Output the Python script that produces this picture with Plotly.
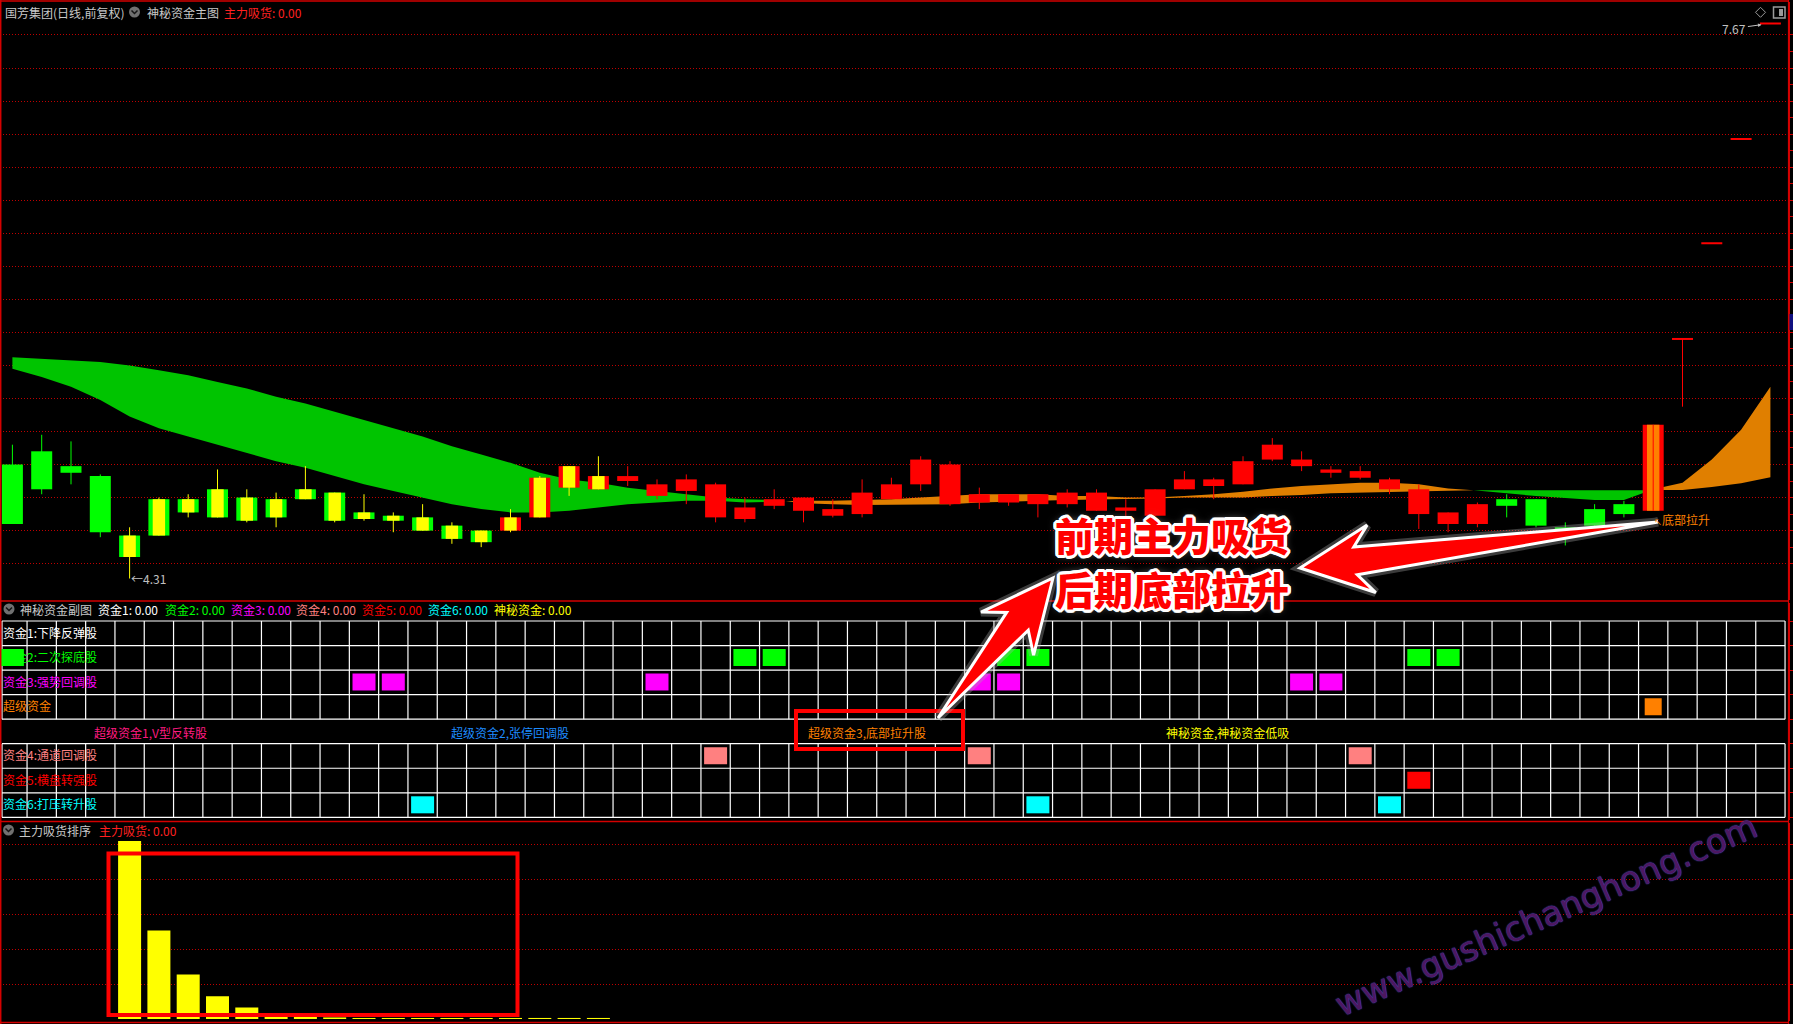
import plotly.graph_objects as go

# ------------------------------------------------------------------ data
bars = list(range(61))
opens = [5.00, 5.08, 4.99, 4.93, 4.44, 4.57, 4.71, 4.68, 4.66, 4.68, 4.79, 4.66, 4.67, 4.66, 4.60, 4.55, 4.53, 4.60, 4.68, 4.86, 4.85,
         4.90, 4.81, 4.84, 4.68, 4.67, 4.75, 4.72, 4.69, 4.70, 4.79, 4.88, 4.76, 4.77, 4.77, 4.76, 4.76, 4.72, 4.72, 4.69, 4.85,
         4.87, 4.88, 5.03, 4.99, 4.95, 4.92, 4.85, 4.70, 4.64, 4.64, 4.79, 4.79, 4.62, 4.73, 4.76, 4.72, 5.76, 6.34, 6.97, 7.67]
highs = [5.12, 5.18, 5.14, 4.94, 4.62, 4.80, 4.82, 4.97, 4.85, 4.83, 4.99, 4.83, 4.82, 4.71, 4.76, 4.65, 4.60, 4.73, 4.93, 4.99, 5.05,
         4.99, 4.91, 4.94, 4.89, 4.80, 4.85, 4.80, 4.79, 4.91, 4.92, 5.05, 5.02, 4.86, 4.82, 4.82, 4.85, 4.85, 4.79, 4.85, 4.96,
         4.92, 5.05, 5.16, 5.08, 4.99, 4.99, 4.92, 4.88, 4.71, 4.77, 4.82, 4.79, 4.65, 4.76, 4.78, 5.24, 5.76, 6.34, 6.97, 7.67]
lows = [4.64, 4.82, 4.88, 4.56, 4.31, 4.57, 4.68, 4.68, 4.65, 4.62, 4.79, 4.65, 4.66, 4.59, 4.60, 4.52, 4.50, 4.59, 4.68, 4.81, 4.85,
        4.87, 4.79, 4.76, 4.65, 4.65, 4.73, 4.65, 4.68, 4.68, 4.79, 4.84, 4.75, 4.73, 4.75, 4.68, 4.74, 4.72, 4.68, 4.69, 4.85,
        4.79, 4.88, 5.02, 4.96, 4.92, 4.91, 4.82, 4.61, 4.59, 4.62, 4.68, 4.62, 4.51, 4.62, 4.68, 4.72, 5.35, 6.34, 6.97, 7.67]
closes = [4.64, 4.85, 4.95, 4.59, 4.57, 4.79, 4.79, 4.85, 4.80, 4.79, 4.85, 4.83, 4.71, 4.69, 4.68, 4.63, 4.60, 4.68, 4.92, 4.99, 4.93,
          4.93, 4.88, 4.91, 4.88, 4.74, 4.79, 4.80, 4.73, 4.83, 4.88, 5.03, 5.00, 4.82, 4.82, 4.82, 4.83, 4.83, 4.74, 4.85, 4.91,
          4.91, 5.02, 5.12, 5.03, 4.97, 4.96, 4.91, 4.85, 4.71, 4.76, 4.75, 4.63, 4.60, 4.63, 4.70, 5.24, 5.76, 6.34, 6.97, 7.67]
# candle signal category: g = fall, yg = absorb (weak), yr = absorb (strong), r = rise, or = bottom lift
candle_signal = ['g'] * 4 + ['yg'] * 13 + ['yr'] * 4 + ['r'] * 30 + ['g'] * 5 + ['or'] + ['r'] * 4

ma_fast = [5.58, 5.53, 5.47, 5.39, 5.29, 5.22, 5.17, 5.12, 5.07, 5.02, 4.98, 4.93, 4.88, 4.84, 4.80, 4.76, 4.73, 4.71, 4.71, 4.72, 4.74,
           4.76, 4.77, 4.78, 4.78, 4.77, 4.775, 4.78, 4.78, 4.785, 4.79, 4.80, 4.81, 4.82, 4.82, 4.82, 4.81, 4.81, 4.80, 4.80, 4.81,
           4.82, 4.835, 4.855, 4.87, 4.88, 4.89, 4.89, 4.88, 4.855, 4.842, 4.826, 4.809, 4.795, 4.785, 4.785, 4.85, 4.89, 5.03, 5.21, 5.47]
ma_slow = [5.65, 5.64, 5.63, 5.62, 5.60, 5.57, 5.54, 5.50, 5.46, 5.41, 5.37, 5.32, 5.27, 5.22, 5.17, 5.11, 5.06, 5.01, 4.95, 4.91, 4.89,
           4.86, 4.84, 4.82, 4.80, 4.79, 4.785, 4.765, 4.76, 4.755, 4.755, 4.757, 4.76, 4.77, 4.775, 4.78, 4.785, 4.79, 4.793, 4.795, 4.80,
           4.80, 4.80, 4.81, 4.815, 4.826, 4.83, 4.834, 4.838, 4.841, 4.844, 4.844, 4.841, 4.844, 4.844, 4.844, 4.845, 4.846, 4.864, 4.886, 4.923]

low_label, high_label = 4.31, 7.67
price_grid = [round(4.4 + 0.2 * k, 2) for k in range(17)]

# signal table (sub chart)
row_labels = ["资金1:下降反弹股", "资金2:二次探底股", "资金3:强势回调股", "超级资金", None,
              "资金4:通道回调股", "资金5:横盘转强股", "资金6:打压转升股"]
row_colors = ["#ffffff", "#00ff00", "#ff00ff", "#ff8000", None, "#ff8080", "#ff0000", "#00ffff"]
row_hits = {0: [], 1: [0, 25, 26, 34, 35, 48, 49], 2: [12, 13, 22, 33, 34, 44, 45], 3: [56],
            5: [24, 33, 46], 6: [48], 7: [14, 35, 47]}
super_labels = ["超级资金1,V型反转股", "超级资金2,张停回调股", "超级资金3,底部拉升股", "神秘资金,神秘资金低吸"]
super_colors = ["#ff1a80", "#1e8cff", "#ff8000", "#ffff00"]
sub_header = [("资金1: 0.00", "#ffffff"), ("资金2: 0.00", "#00ff00"), ("资金3: 0.00", "#ff00ff"),
              ("资金4: 0.00", "#ff8080"), ("资金5: 0.00", "#ff0000"), ("资金6: 0.00", "#00ffff"),
              ("神秘资金: 0.00", "#ffff00")]

# main-force absorption ranking (bottom chart)
absorb_bars = list(range(4, 21))
absorb_values = [101.7, 50.6, 25.4, 13.0, 6.6, 3.3, 2.0, 0.9, 0.6, 0.6, 0.6, 0.6, 0.6, 0.6, 0.6, 0.6, 0.6]

# ------------------------------------------------------------------ geometry / style
W, H = 1793, 1024
X0, DX = 12.4, 29.3      # pixel centre of bar 0, pixels per bar
XR = 1788.5              # right axis line
Y_REF, PPX = 578.5, 165.2
FONT = "Noto Sans CJK SC"
RED_LINE = "#d40000"
GRID = "#c00000"


def dx(x):
    return (x - X0) / DX


def pxp(x):
    return x / W


def pyp(y):
    return 1 - y / H


def price_at(y):
    return low_label + (Y_REF - y) / PPX


def vrow(y):
    return 8 - (y - 621) / 24.54


def bval(y):
    return (1019 - y) * 20 / 35


fig = go.Figure()

# ---- band (fast / slow average cloud)
def band_segments(fast, slow):
    segs, cur = [], None
    for i in range(len(fast)):
        d = fast[i] - slow[i]
        s = d >= 0
        if cur is None:
            cur = {"s": s, "pts": [(i, fast[i], slow[i])]}
            continue
        if s != cur["s"]:
            d0 = fast[i - 1] - slow[i - 1]
            t = d0 / (d0 - d)
            xc = i - 1 + t
            yc = fast[i - 1] + t * (fast[i] - fast[i - 1])
            cur["pts"].append((xc, yc, yc))
            segs.append(cur)
            cur = {"s": s, "pts": [(xc, yc, yc)]}
        cur["pts"].append((i, fast[i], slow[i]))
    segs.append(cur)
    return segs


for seg in band_segments(ma_fast, ma_slow):
    pts = seg["pts"]
    xs = [p[0] for p in pts] + [p[0] for p in reversed(pts)]
    ys = [p[1] for p in pts] + [p[2] for p in reversed(pts)]
    fig.add_trace(go.Scatter(x=xs, y=ys, mode="lines", fill="toself",
                             fillcolor="#e07f00" if seg["s"] else "#00c400",
                             line=dict(width=0), hoverinfo="skip", showlegend=False,
                             xaxis="x", yaxis="y"))

# ---- candles (on overlay axis so they sit above the cloud)
outer_col = {"g": "#00ff00", "yg": "#00ff00", "yr": "#ff0000", "r": "#ff0000", "or": "#ff0000"}
inner_col = {"yg": "#ffff00", "yr": "#ffff00", "or": "#ff8000"}
wick_col = {"g": "#00ff00", "yg": "#ffff00", "yr": "#ffff00", "r": "#ff0000", "or": "#ff0000"}
MINH = 2.0 / PPX
b_lo, b_h = [], []
for o, c in zip(opens, closes):
    lo, hi = min(o, c), max(o, c)
    if hi - lo < MINH:
        mid = hi
        lo, hi = mid - MINH / 2, mid + MINH / 2
    b_lo.append(lo)
    b_h.append(hi - lo)

for col in ["#00ff00", "#ffff00", "#ff0000"]:
    xs, ys = [], []
    for i in bars:
        if wick_col[candle_signal[i]] == col:
            xs += [i, i, None]
            ys += [lows[i], highs[i], None]
    fig.add_trace(go.Scatter(x=xs, y=ys, mode="lines", line=dict(color=col, width=1),
                             hoverinfo="skip", showlegend=False, xaxis="x", yaxis="y4"))

fig.add_trace(go.Bar(x=bars, base=b_lo, y=b_h, width=0.717,
                     marker=dict(color=[outer_col[s] for s in candle_signal], line=dict(width=0)),
                     hoverinfo="skip", showlegend=False, xaxis="x", yaxis="y4"))
inn = [i for i in bars if candle_signal[i] in inner_col]
fig.add_trace(go.Bar(x=inn, base=[b_lo[i] for i in inn], y=[b_h[i] for i in inn], width=0.423,
                     marker=dict(color=[inner_col[candle_signal[i]] for i in inn], line=dict(width=0)),
                     hoverinfo="skip", showlegend=False, xaxis="x", yaxis="y4"))

# ---- signal table grid
gx, gy = [], []
xl, xr = dx(2), 60.5
for v in range(9):
    gx += [xl, xr, None]
    gy += [v, v, None]
for xv in [xl] + [k + 0.5 for k in range(60)] + [xr]:
    gx += [xv, xv, None, xv, xv, None]
    gy += [8, 4, None, 3, 0, None]
fig.add_trace(go.Scatter(x=gx, y=gy, mode="lines", line=dict(color="#ffffff", width=1.2),
                         hoverinfo="skip", showlegend=False, xaxis="x", yaxis="y2"))

lab_rows = [r for r in range(8) if row_labels[r]]
fig.add_trace(go.Scatter(x=[dx(3)] * len(lab_rows), y=[7.45 - r for r in lab_rows],
                         mode="text", text=[row_labels[r] for r in lab_rows], textposition="middle right",
                         textfont=dict(family=FONT, size=12, color=[row_colors[r] for r in lab_rows]),
                         hoverinfo="skip", showlegend=False, xaxis="x", yaxis="y2"))

for r, hits in row_hits.items():
    if not hits:
        continue
    bottom = 7 - r
    fig.add_trace(go.Bar(x=hits, base=[bottom + 0.163] * len(hits), y=[0.694] * len(hits),
                         width=0.58 if r == 3 else 0.785,
                         marker=dict(color=row_colors[r], line=dict(width=0)),
                         hoverinfo="skip", showlegend=False, xaxis="x", yaxis="y5"))

# ---- absorption ranking bars
fig.add_trace(go.Bar(x=absorb_bars, y=absorb_values, width=0.785,
                     marker=dict(color="#ffff00", line=dict(width=0)),
                     hoverinfo="skip", showlegend=False, xaxis="x", yaxis="y3"))

# ------------------------------------------------------------------ annotations
ann = []


def note(x, y, text, color, size=12, xanchor="left", **kw):
    d = dict(x=pxp(x), y=pyp(y), xref="paper", yref="paper", text=text, showarrow=False,
             xanchor=xanchor, yanchor="middle", font=dict(family=FONT, size=size, color=color))
    d.update(kw)
    ann.append(d)


note(3, 12, "国芳集团(日线,前复权)", "#c8c8c8")
note(145, 12, "神秘资金主图", "#c8c8c8")
note(222, 12, "主力吸货: 0.00", "#ff2020")

note(18, 609, "神秘资金副图", "#c8c8c8")
hx = [95.7, 162.6, 228.5, 294, 360, 426, 492]
for (t, c), x in zip(sub_header, hx):
    note(x, 609, t, c)
for t, c, x in zip(super_labels, super_colors, [92, 448.5, 806, 1164]):
    note(x, 732, t, c)

note(17, 830, "主力吸货排序", "#c8c8c8")
note(97, 830, "主力吸货: 0.00", "#ff2020")

# price extreme labels
lo_i = lows.index(min(lows[:57]))
ann.append(dict(x=lo_i, y=low_label, xref="x", yref="y", text="←" + f"{low_label:.2f}", showarrow=False,
                xanchor="left", yanchor="middle", xshift=-1,
                font=dict(family=FONT, size=12, color="#c0c0c0")))
ann.append(dict(x=60, y=high_label, xref="x", yref="y", text=f"{high_label:.2f}", showarrow=True,
                ax=-36, ay=5, arrowhead=2, arrowsize=0.7, arrowwidth=1, arrowcolor="#c0c0c0",
                standoff=9, font=dict(family=FONT, size=12, color="#c0c0c0")))
ann.append(dict(x=56, y=min(opens[56], closes[56]), xref="x", yref="y",
                text="<span style='font-size:8px'>↖</span>底部拉升", showarrow=False,
                xanchor="left", yanchor="middle", xshift=-1, yshift=-9,
                font=dict(family=FONT, size=12, color="#ff8000")))

# big callout text
off = [(-3, 0), (3, 0), (0, -3), (0, 3), (-2, -2), (2, -2), (-2, 2), (2, 2),
       (-3, -1), (3, 1), (-1, 3), (1, -3), (-3, 1), (3, -1), (1, 3), (-1, -3)]
outline = ", ".join(f"{a}px {b}px 0 #ffffff" for a, b in off) + ", 0 0 9px #9a9a9a"
for y, t in [(534, "前期主力吸货"), (588, "后期底部拉升")]:
    ann.append(dict(x=pxp(1172), y=pyp(y), xref="paper", yref="paper", text=t, showarrow=False,
                    xanchor="center", yanchor="middle",
                    font=dict(family=FONT, size=39, color="#ff0000", weight=900, shadow=outline)))

# watermark
ann.append(dict(x=pxp(1546), y=pyp(915), xref="paper", yref="paper", text="www.gushichanghong.com",
                showarrow=False, textangle=-23.5, xanchor="center", yanchor="middle",
                font=dict(family="DejaVu Sans", size=34, color="rgba(78,22,92,0.95)",
                          shadow="0 0 1.2px rgba(70,70,190,0.95), 0 0 1.2px rgba(70,70,190,0.95)")))

# ------------------------------------------------------------------ shapes
shapes = []


def pline(x0, y0, x1, y1, color=RED_LINE, width=1.5):
    shapes.append(dict(type="line", xref="paper", yref="paper", x0=pxp(x0), y0=pyp(y0),
                       x1=pxp(x1), y1=pyp(y1), line=dict(color=color, width=width)))


pline(0, 1, XR, 1)
pline(0.7, 0, 0.7, H)
for yy in (601, 821.5, 1022.5):
    pline(0, yy, XR, yy)
pline(XR, 0, XR, H, width=1.2)
shapes.append(dict(type="rect", xref="paper", yref="paper", x0=pxp(1789.5), x1=pxp(1793),
                   y0=pyp(314), y1=pyp(330), fillcolor="#101080", line=dict(width=0)))


def icon(cx, cy):
    shapes.append(dict(type="circle", xref="paper", yref="paper", x0=pxp(cx - 5.5), x1=pxp(cx + 5.5),
                       y0=pyp(cy + 5.5), y1=pyp(cy - 5.5), fillcolor="#707070", line=dict(width=0)))
    shapes.append(dict(type="path", xref="paper", yref="paper",
                       path=f"M {pxp(cx-3)},{pyp(cy-1.5)} L {pxp(cx)},{pyp(cy+1.5)} L {pxp(cx+3)},{pyp(cy-1.5)}",
                       line=dict(color="#151515", width=1.5)))


icon(134.5, 12)
icon(9, 609)
icon(8.5, 830)

# top-right window icons
shapes.append(dict(type="path", xref="paper", yref="paper",
                   path=f"M {pxp(1760.5)},{pyp(7.3)} L {pxp(1765.5)},{pyp(12.3)} L {pxp(1760.5)},{pyp(17.3)} L {pxp(1755.5)},{pyp(12.3)} Z",
                   line=dict(color="#9a9a9a", width=1)))
shapes.append(dict(type="rect", xref="paper", yref="paper", x0=pxp(1773.5), x1=pxp(1785),
                   y0=pyp(18), y1=pyp(7), line=dict(color="#9a9a9a", width=1.5)))
shapes.append(dict(type="rect", xref="paper", yref="paper", x0=pxp(1779), x1=pxp(1783),
                   y0=pyp(16), y1=pyp(9), fillcolor="#9a9a9a", line=dict(width=0)))

# highlight boxes
for x0, y0, x1, y1 in [(796, 711, 963, 749), (108.5, 853.5, 517.5, 1015)]:
    shapes.append(dict(type="rect", xref="paper", yref="paper", x0=pxp(x0), x1=pxp(x1),
                       y0=pyp(y1), y1=pyp(y0), line=dict(color="#ff0000", width=4)))


def arrow_path(tail, tip, head_len, barb_len, head_half, shaft_half):
    tx, ty = tail
    hx_, hy_ = tip
    L = ((hx_ - tx) ** 2 + (hy_ - ty) ** 2) ** 0.5
    ux, uy = (hx_ - tx) / L, (hy_ - ty) / L
    nx, ny = -uy, ux
    bx, by = hx_ - ux * head_len, hy_ - uy * head_len
    cx, cy = hx_ - ux * barb_len, hy_ - uy * barb_len
    pts = [tip, (cx + nx * head_half, cy + ny * head_half), (bx + nx * shaft_half, by + ny * shaft_half),
           tail, (bx - nx * shaft_half, by - ny * shaft_half), (cx - nx * head_half, cy - ny * head_half)]
    return "M " + " L ".join(f"{pxp(x):.5f},{pyp(y):.5f}" for x, y in pts) + " Z"


for tail, tip in [((1658, 522), (1300, 568)), ((938, 718), (1053, 578))]:
    p = arrow_path(tail, tip, 56, 72, 34, 14)
    shapes.append(dict(type="path", xref="paper", yref="paper", path=p,
                       line=dict(color="rgba(170,170,170,0.35)", width=9)))
    shapes.append(dict(type="path", xref="paper", yref="paper", path=p, fillcolor="#ff0000",
                       line=dict(color="#ffffff", width=3)))

# ------------------------------------------------------------------ layout
common_off = dict(showgrid=False, zeroline=False, showticklabels=False, ticks="", showline=False)
fig.update_layout(
    width=W, height=H, autosize=False,
    margin=dict(l=0, r=0, t=0, b=0, pad=0),
    paper_bgcolor="#000000", plot_bgcolor="#000000",
    barmode="overlay", showlegend=False, hovermode=False,
    xaxis=dict(domain=[0, XR / W], range=[dx(0), dx(XR)], visible=False, fixedrange=True),
    yaxis=dict(domain=[pyp(600), pyp(2)], range=[price_at(600), price_at(2)], anchor="x", side="right",
               showline=True, linecolor=RED_LINE, linewidth=1, ticks="outside", ticklen=4,
               tickcolor=RED_LINE, tickvals=price_grid, showticklabels=False,
               showgrid=True, gridcolor=GRID, griddash="1px,2px", gridwidth=1, zeroline=False,
               minor=dict(tickvals=[round(p + 0.1, 2) for p in price_grid[:-1]], ticks="outside",
                          ticklen=3, tickcolor=RED_LINE, showgrid=False)),
    yaxis4=dict(overlaying="y", anchor="x", range=[price_at(600), price_at(2)], **common_off),
    yaxis2=dict(domain=[pyp(820), pyp(603)], range=[vrow(820), vrow(603)], anchor="x", side="right",
                showline=True, linecolor=RED_LINE, linewidth=1, ticks="outside", ticklen=4,
                tickcolor=RED_LINE, tickvals=list(range(9)), showticklabels=False,
                showgrid=False, zeroline=False),
    yaxis5=dict(overlaying="y2", anchor="x", range=[vrow(820), vrow(603)], **common_off),
    yaxis3=dict(domain=[pyp(1021), pyp(823)], range=[bval(1021), bval(823)], anchor="x", side="right",
                showline=True, linecolor=RED_LINE, linewidth=1, ticks="outside", ticklen=4,
                tickcolor=RED_LINE, tickvals=[20, 40, 60, 80, 100], showticklabels=False,
                showgrid=True, gridcolor=GRID, griddash="1px,2px", gridwidth=1, zeroline=False),
    annotations=ann,
    shapes=shapes,
)

fig.write_html("out.html", include_plotlyjs=True, full_html=True,
               config=dict(displayModeBar=False, staticPlot=True),
               post_script="document.body.style.margin='0';document.body.style.background='#000';"
                           "document.body.style.overflow='hidden';")
